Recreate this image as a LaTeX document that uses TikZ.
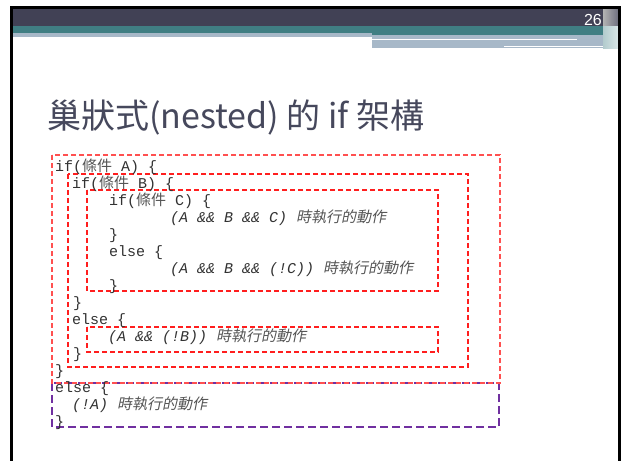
\documentclass[tikz,border=0pt]{standalone}
\usepackage{fontspec}
\setmainfont{Liberation Sans}
\setmonofont{Liberation Mono}
\newfontfamily\cjk{Noto Sans CJK TC}
\newfontfamily\cjki[FakeSlant=0.2]{Noto Sans CJK TC}
\definecolor{hdark}{RGB}{65,65,85}
\definecolor{hteal}{RGB}{64,126,131}
\definecolor{hlight}{RGB}{167,184,200}
\definecolor{titlegray}{RGB}{70,72,92}
\definecolor{codegray}{RGB}{50,50,50}
\definecolor{cjkgray}{RGB}{85,85,85}
\definecolor{boxred}{RGB}{255,30,30}
\definecolor{outerred}{RGB}{255,80,80}
\definecolor{boxpurple}{RGB}{112,48,160}
\tikzset{
  codeline/.style={anchor=base west, inner sep=0pt, text=codegray,
    font=\ttfamily\fontsize{15}{15}\selectfont},
  redbox/.style={draw=boxred, line width=1.2pt, dash pattern=on 5pt off 3pt},
  purplebox/.style={draw=boxpurple, line width=2pt, dash pattern=on 8pt off 4pt},
}
\newcommand{\cj}[1]{{\cjk\color{cjkgray}#1}}
\newcommand{\cji}[1]{{\cjki\color{cjkgray}#1}}
\begin{document}
\begin{tikzpicture}[x=1pt,y=-1pt]
\useasboundingbox (0,0) rectangle (621,461);
\fill[white] (0,0) rectangle (621,461);
% header bands
\fill[hdark] (13,9) rectangle (618,26);
\fill[hteal] (13,26) rectangle (618,33);
\fill[hlight] (13,33) rectangle (372,37);
\fill[hteal] (372,33) rectangle (605,35);
\fill[hlight] (372,35) rectangle (605,48);
\fill[white] (372,38.5) rectangle (577,40);
\fill[white] (504,45.5) rectangle (605,47);
\shade[left color=gray!60, right color=hdark!75] (603,9) rectangle (618,26);
\shade[left color=hteal!40, right color=hteal!20] (603,26) rectangle (618,48);
% frame
\fill[black] (10,6) rectangle (621,9);
\fill[black] (10,6) rectangle (13,461);
\fill[black] (618,6) rectangle (621,461);
% slide number
\node[anchor=base east, inner sep=0pt, text=white,
  font=\fontsize{16}{16}\selectfont] (num) at (602,25) {26};
% title
\node[anchor=base west, inner sep=0pt, text=titlegray,
  font=\cjk\fontsize{34}{34}\selectfont] (title) at (47,128)
  {巢狀式(nested) 的 if 架構};
% boxes
\draw[purplebox] (52,383) rectangle (499,427);
\draw[redbox, draw=outerred] (52,155) rectangle (500,383);
\draw[redbox] (68,174) rectangle (468,367);
\draw[redbox] (87,190) rectangle (438,291);
\draw[redbox] (87,327) rectangle (438,352);
% code
\node[codeline] (l0) at (55,171) {if(\cj{條件} A) \{};
\node[codeline] (l1) at (72,188) {if(\cj{條件} B) \{};
\node[codeline] (l2) at (109,205) {if(\cj{條件} C) \{};
\node[codeline] (l3) at (170,222) {\itshape (A \&\& B \&\& C) \cji{時執行的動作}};
\node[codeline] (l4) at (109,239) {\}};
\node[codeline] (l5) at (109,256) {else \{};
\node[codeline] (l6) at (170,273) {\itshape (A \&\& B \&\& (!C)) \cji{時執行的動作}};
\node[codeline] (l7) at (109,290) {\}};
\node[codeline] (l8) at (73,307) {\}};
\node[codeline] (l9) at (72,324) {else \{};
\node[codeline] (l10) at (108,341) {\itshape (A \&\& (!B)) \cji{時執行的動作}};
\node[codeline] (l11) at (73,358) {\}};
\node[codeline] (l12) at (55,375) {\}};
\node[codeline] (l13) at (55,392) {else \{};
\node[codeline] (l14) at (72,409) {\itshape (!A) \cji{時執行的動作}};
\node[codeline] (l15) at (55,426) {\}};
\end{tikzpicture}
\end{document}
